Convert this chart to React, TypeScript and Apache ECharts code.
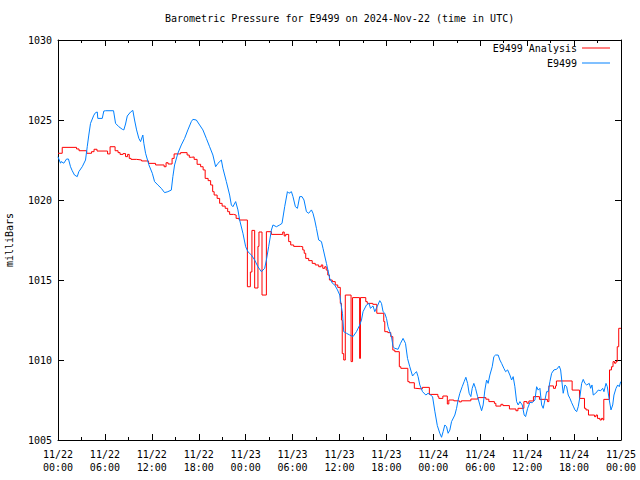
import React, { useEffect, useRef } from "react";
import * as echarts from "echarts";

const chartTitle = "Barometric Pressure for E9499 on 2024-Nov-22 (time in UTC)";
const yAxisName = "milliBars";
const seriesNames = ["E9499 Analysis", "E9499"];
const dayLabels = ["11/22", "11/23", "11/24", "11/25"];
const hourLabels = ["00:00", "06:00", "12:00", "18:00"];
const yMin = 1005;
const yMax = 1030;

// [hours since 11/22 00:00 UTC, mb] — analysis (stepped)
const analysisData: [number, number][] = [
  [0, 1022.92], [0.54, 1023.29], [2.37, 1023.19], [2.69, 1023.08], [3.67, 1022.92],
  [4.29, 1023.02], [4.61, 1023.17], [4.99, 1023.06], [6.34, 1022.88], [6.66, 1023.33],
  [7.3, 1023.08], [7.68, 1022.96], [7.94, 1022.85], [8.32, 1022.9], [8.64, 1022.71],
  [8.9, 1022.85], [9.11, 1022.6], [9.34, 1022.54], [10.05, 1022.5], [10.69, 1022.44],
  [11.58, 1022.29], [12.48, 1022.19], [13.57, 1022.08], [13.82, 1022.33], [14.08, 1022.25],
  [14.59, 1022.6], [14.85, 1022.88], [15.68, 1022.96], [16.51, 1022.81], [16.79, 1022.67],
  [17.09, 1022.69], [17.41, 1022.54], [17.79, 1022.23], [18.24, 1022.08], [18.56, 1021.88],
  [18.82, 1021.35], [19.2, 1021.21], [19.52, 1020.94], [19.78, 1020.52], [19.97, 1020.31],
  [20.35, 1020.1], [20.67, 1019.79], [20.99, 1019.62], [21.38, 1019.48], [21.7, 1019.27],
  [21.95, 1019.1], [22.46, 1019.06], [22.78, 1018.85], [23.17, 1018.75],
  [24.22, 1014.58], [24.6, 1015.5], [24.8, 1018.1], [25.15, 1014.5], [25.57, 1017.1],
  [25.7, 1018.0], [26.09, 1014.06], [26.65, 1018.02], [27.29, 1017.85], [28.74, 1018.0],
  [28.93, 1017.75], [29.12, 1017.85], [29.5, 1017.4], [29.76, 1017.19], [30.14, 1017.1],
  [30.98, 1017.08], [31.3, 1016.88], [31.49, 1016.67], [31.68, 1016.35], [32.06, 1016.21],
  [32.51, 1016.04], [32.9, 1015.94], [33.34, 1015.83], [33.66, 1015.94], [33.86, 1015.73],
  [34.11, 1015.83], [34.3, 1015.62], [34.5, 1015.31], [34.71, 1015.0], [35.07, 1014.9],
  [35.46, 1014.69], [35.78, 1014.54], [36.1, 1013.54], [36.25, 1012.5], [36.35, 1010.4],
  [36.54, 1010.0], [36.74, 1014.06], [37.48, 1009.9], [37.67, 1013.9], [38.57, 1010.1],
  [38.68, 1013.9], [39.36, 1013.65], [39.55, 1013.54], [40.26, 1013.48], [40.77, 1012.92],
  [41.66, 1012.4], [41.79, 1011.77], [42.18, 1011.71], [42.56, 1011.46], [42.82, 1010.62],
  [43.07, 1010.52], [43.65, 1009.58], [43.84, 1009.48], [44.74, 1008.65], [44.93, 1008.58],
  [45.57, 1008.23], [45.76, 1008.19], [46.59, 1008.29], [47.49, 1007.85], [48.58, 1007.71],
  [48.7, 1007.6], [49.22, 1007.75], [49.79, 1007.25], [49.98, 1007.5], [50.62, 1007.45],
  [51.33, 1007.38], [51.58, 1007.45], [52.8, 1007.56], [53.7, 1007.65], [54.72, 1007.55],
  [55.1, 1007.4], [55.81, 1007.29], [56.0, 1007.12], [56.64, 1007.23], [56.9, 1007.15],
  [57.73, 1006.94], [58.56, 1006.83], [58.82, 1006.98], [59.58, 1007.4], [59.97, 1007.3],
  [60.22, 1007.44], [60.8, 1007.71], [61.57, 1007.54], [62.59, 1007.4], [62.78, 1008.38],
  [63.36, 1008.23], [63.62, 1008.38], [63.74, 1008.69], [65.75, 1008.12], [66.69, 1007.6],
  [67.33, 1006.98], [67.52, 1006.88], [67.84, 1006.56], [68.61, 1006.46], [68.8, 1006.56],
  [68.99, 1006.35], [69.31, 1006.25], [69.5, 1006.35], [69.7, 1006.25], [69.8, 1007.54],
  [70.53, 1009.38], [70.78, 1009.58], [70.98, 1009.9], [71.17, 1009.8], [71.36, 1009.9],
  [71.52, 1010.83], [71.71, 1011.98], [72, 1012.0],
];

// [hours since 11/22 00:00 UTC, mb] — station observations
const stationData: [number, number][] = [
  [0, 1022.7], [0.32, 1022.3], [0.41, 1022.4], [0.74, 1022.3], [1.09, 1022.56], [1.34, 1022.56],
  [1.6, 1022.08], [1.82, 1021.83], [2.11, 1021.56], [2.46, 1021.46], [2.66, 1021.77],
  [3.1, 1022.08], [3.52, 1022.5], [3.74, 1023.33], [3.94, 1024.06], [4.16, 1024.79],
  [4.58, 1025.3], [4.8, 1025.46], [5.02, 1025.5], [5.09, 1025.1], [5.66, 1025.1],
  [5.86, 1025.56], [6.08, 1025.58], [7.1, 1025.58], [7.36, 1024.79], [7.78, 1024.58],
  [8.22, 1024.42], [8.42, 1024.38], [8.64, 1024.75], [8.86, 1025.25], [9.28, 1025.5],
  [9.57, 1025.6], [9.79, 1025.0], [10.05, 1024.38], [10.34, 1023.85], [10.56, 1023.65],
  [10.85, 1024.06], [10.98, 1023.54], [11.2, 1022.92], [11.62, 1022.2], [12.06, 1021.67],
  [12.35, 1021.15], [12.77, 1020.94], [13.21, 1020.73], [13.63, 1020.46], [14.05, 1020.52],
  [14.49, 1020.62], [14.69, 1021.46], [14.91, 1022.19], [15.33, 1022.92], [15.77, 1023.44],
  [16.19, 1023.85], [16.61, 1024.38], [17.05, 1024.9], [17.25, 1025.04], [17.69, 1025.0],
  [18.11, 1024.69], [18.53, 1024.38], [18.97, 1023.85], [19.39, 1023.33], [19.81, 1022.81],
  [20.16, 1022.08], [20.45, 1022.29], [20.89, 1022.5], [21.09, 1021.98], [21.53, 1021.15],
  [21.95, 1020.31], [22.17, 1019.69], [22.37, 1019.58], [22.72, 1019.9], [23.01, 1019.38],
  [23.23, 1018.75], [23.65, 1017.92], [24.0, 1017.08], [24.29, 1016.77], [24.73, 1016.56],
  [25.15, 1016.25], [25.57, 1015.83], [26.01, 1015.52], [26.43, 1015.73], [26.65, 1016.25],
  [26.94, 1017.08], [27.29, 1018.12], [27.49, 1018.44], [27.93, 1018.33], [28.35, 1018.44],
  [28.65, 1018.54], [28.99, 1019.58], [29.34, 1020.52], [29.54, 1020.42], [29.85, 1020.52],
  [30.05, 1020.21], [30.36, 1019.58], [30.62, 1019.48], [30.91, 1020.21], [31.21, 1020.21],
  [31.46, 1020.0], [31.77, 1019.27], [32.06, 1019.17], [32.41, 1019.38], [32.61, 1019.17],
  [32.83, 1018.75], [33.05, 1018.23], [33.34, 1017.5], [33.69, 1017.4], [33.89, 1016.98],
  [34.33, 1016.04], [34.75, 1015.1], [35.1, 1014.79], [35.39, 1014.69], [35.74, 1014.38],
  [36.03, 1014.06], [36.25, 1013.3], [36.38, 1012.92], [36.54, 1011.77], [36.89, 1011.67],
  [37.31, 1011.56], [37.73, 1011.46], [38.17, 1011.77], [38.59, 1012.19], [38.81, 1012.5],
  [39.01, 1013.02], [39.45, 1013.44], [39.78, 1013.54], [39.96, 1013.23], [40.29, 1013.38],
  [40.51, 1013.02], [40.81, 1013.33], [41.15, 1013.71], [41.37, 1013.54], [41.57, 1013.02],
  [41.79, 1012.92], [42.01, 1012.6], [42.21, 1012.08], [42.43, 1011.77], [42.65, 1011.46],
  [42.85, 1010.83], [43.07, 1010.73], [43.49, 1010.67], [43.8, 1011.04], [44.13, 1011.35],
  [44.44, 1011.04], [44.7, 1010.1], [44.99, 1009.58], [45.34, 1009.0], [45.63, 1009.17],
  [45.85, 1009.27], [46.05, 1008.96], [46.27, 1008.44], [46.62, 1008.02], [47.04, 1007.81],
  [47.33, 1007.92], [47.64, 1007.81], [47.9, 1007.71], [48.19, 1006.8], [48.51, 1005.9],
  [48.83, 1005.42], [49.05, 1005.17], [49.25, 1005.52], [49.47, 1005.94], [49.69, 1005.83],
  [49.89, 1005.42], [50.11, 1005.62], [50.33, 1006.15], [50.75, 1006.56], [50.97, 1006.98],
  [51.17, 1007.5], [51.39, 1007.92], [51.69, 1008.33], [51.94, 1008.65], [52.16, 1008.92],
  [52.38, 1008.54], [52.58, 1007.92], [52.8, 1007.71], [52.97, 1008.23], [53.18, 1008.54],
  [53.4, 1008.23], [53.66, 1007.71], [53.95, 1007.19], [54.17, 1006.83], [54.37, 1007.19],
  [54.59, 1008.12], [54.81, 1008.75], [55.01, 1008.54], [55.23, 1009.06], [55.53, 1009.58],
  [55.74, 1010.21], [55.96, 1010.31], [56.29, 1010.31], [56.51, 1010.0], [56.73, 1009.79],
  [57.02, 1009.48], [57.24, 1009.27], [57.5, 1009.38], [57.79, 1009.06], [58.01, 1008.75],
  [58.21, 1008.96], [58.43, 1008.33], [58.65, 1007.4], [58.85, 1007.19], [59.07, 1007.4],
  [59.37, 1007.19], [59.62, 1006.56], [59.8, 1006.46], [60.06, 1006.98], [60.35, 1007.35],
  [60.65, 1007.33], [60.99, 1007.5], [61.21, 1008.33], [61.41, 1008.12], [61.63, 1008.23],
  [61.85, 1007.19], [62.05, 1006.98], [62.27, 1007.5], [62.49, 1008.02], [62.69, 1008.02],
  [62.91, 1008.65], [63.13, 1009.17], [63.42, 1009.38], [63.77, 1009.42], [64.1, 1009.62],
  [64.28, 1009.38], [64.49, 1008.44], [64.61, 1007.92], [64.83, 1008.44], [65.05, 1008.33],
  [65.25, 1007.81], [65.47, 1007.6], [65.69, 1007.33], [65.89, 1007.12], [66.11, 1006.88],
  [66.33, 1006.77], [66.53, 1007.08], [66.75, 1007.71], [66.97, 1008.54], [67.17, 1008.79],
  [67.39, 1008.54], [67.61, 1008.44], [67.94, 1008.54], [68.12, 1008.23], [68.29, 1008.44],
  [68.45, 1007.81], [68.76, 1007.92], [69.09, 1008.12], [69.4, 1008.08], [69.66, 1008.23],
  [69.82, 1008.02], [70.08, 1008.54], [70.25, 1008.33], [70.5, 1007.5], [70.72, 1006.88],
  [70.94, 1007.19], [71.1, 1007.81], [71.36, 1008.23], [71.58, 1008.44], [71.78, 1008.33],
  [71.96, 1008.65],
];

const FONT = "'DejaVu Sans Mono', 'Liberation Mono', monospace";

function xLabel(v: number): string {
  const day = Math.floor(v / 24);
  const hr = Math.round(v - day * 24);
  return `${dayLabels[day]}\n${hourLabels[hr / 6]}`;
}

export default function App() {
  const ref = useRef<HTMLDivElement>(null);
  useEffect(() => {
    if (!ref.current) return;
    const chart = echarts.init(ref.current, null, { renderer: "svg" });
    const axisLine = { show: true, onZero: false, lineStyle: { color: "#000", width: 1 } };
    const xCommon = {
      type: "value",
      min: 0,
      max: 72,
      interval: 6,
      axisLine,
      axisTick: { show: true, inside: true, length: 6, lineStyle: { color: "#000" } },
      minorTick: { show: true, splitNumber: 2, length: 3, lineStyle: { color: "#000" } },
      splitLine: { show: false },
      minorSplitLine: { show: false },
    };
    const yCommon = {
      type: "value",
      min: yMin,
      max: yMax,
      interval: 5,
      axisLine,
      axisTick: { show: true, inside: true, length: 6, lineStyle: { color: "#000" } },
      splitLine: { show: false },
    };
    chart.setOption({
      animation: false,
      backgroundColor: "#fff",
      title: {
        text: chartTitle,
        left: 165,
        top: 13,
        padding: 0,
        textStyle: { fontFamily: FONT, fontSize: 10, fontWeight: "normal", color: "#000" },
      },
      legend: {
        data: seriesNames,
        orient: "vertical",
        right: 30,
        top: 42,
        align: "right",
        itemWidth: 28,
        itemHeight: 1,
        itemGap: 3,
        padding: 0,
        icon: "rect",
        textStyle: { fontFamily: FONT, fontSize: 10, color: "#000", lineHeight: 12 },
      },
      grid: { left: 58, right: 19, top: 40, bottom: 40, containLabel: false, outerBoundsMode: "none" },
      xAxis: [
        {
          ...xCommon,
          position: "bottom",
          axisLabel: {
            show: true,
            formatter: xLabel,
            fontFamily: FONT,
            fontSize: 10,
            color: "#000",
            lineHeight: 13,
            margin: 8,
            showMinLabel: true,
            showMaxLabel: true,
          },
        },
        { ...xCommon, position: "top", axisLabel: { show: false } },
      ],
      yAxis: [
        {
          ...yCommon,
          position: "left",
          name: yAxisName,
          nameLocation: "middle",
          nameGap: 44,
          nameRotate: 90,
          nameTextStyle: { fontFamily: FONT, fontSize: 10, color: "#000" },
          axisLabel: {
            fontFamily: FONT,
            fontSize: 10,
            color: "#000",
            margin: 6,
            formatter: (v: number) => String(v),
          },
        },
        { ...yCommon, position: "right", axisLabel: { show: false } },
      ],
      series: [
        {
          name: seriesNames[0],
          type: "line",
          step: "end",
          data: analysisData,
          showSymbol: false,
          symbol: "none",
          color: "#ff0000",
          lineStyle: { color: "#ff0000", width: 1 },
          xAxisIndex: 0,
          yAxisIndex: 0,
        },
        {
          name: seriesNames[1],
          type: "line",
          data: stationData,
          showSymbol: false,
          symbol: "none",
          color: "#0080ff",
          lineStyle: { color: "#0080ff", width: 1 },
          xAxisIndex: 0,
          yAxisIndex: 0,
        },
      ],
    });
    return () => chart.dispose();
  }, []);
  return (
    <div
      ref={ref}
      style={{ position: "fixed", left: 0, top: 0, width: 640, height: 480, background: "#fff" }}
    />
  );
}
